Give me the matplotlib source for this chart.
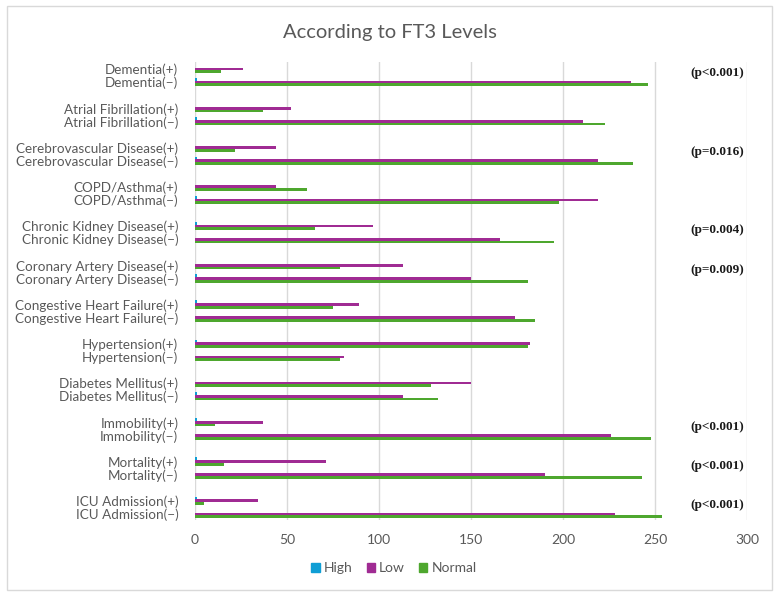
import matplotlib
matplotlib.use("Agg")
import matplotlib.pyplot as plt
from matplotlib.patches import Rectangle, Patch
import numpy as np

plt.rcParams['font.family'] = ['Lato', 'DejaVu Sans']

conditions = ["Dementia", "Atrial Fibrillation", "Cerebrovascular Disease", "COPD/Asthma",
              "Chronic Kidney Disease", "Coronary Artery Disease", "Congestive Heart Failure",
              "Hypertension", "Diabetes Mellitus", "Immobility", "Mortality", "ICU Admission"]

# values per condition: [(+), (−)]
high = [[0, 1], [0, 1], [0, 1], [0, 1], [1, 0], [0, 1], [1, 0], [1, 0], [0, 1], [1, 0], [1, 0], [1, 0]]
low = [[26, 237], [52, 211], [44, 219], [44, 219], [97, 166], [113, 150], [89, 174],
       [182, 81], [150, 113], [37, 226], [71, 190], [34, 228]]
normal = [[14, 246], [37, 223], [22, 238], [61, 198], [65, 195], [79, 181], [75, 185],
          [181, 79], [128, 132], [11, 248], [16, 243], [5, 254]]

p_labels = {"Dementia": "(p<0.001)", "Cerebrovascular Disease": "(p=0.016)",
            "Chronic Kidney Disease": "(p=0.004)", "Coronary Artery Disease": "(p=0.009)",
            "Immobility": "(p<0.001)", "Mortality": "(p<0.001)", "ICU Admission": "(p<0.001)"}

c_high, c_low, c_normal = "#0F9ED5", "#A02B93", "#4EA72E"
grey = "#595959"

fig = plt.figure(figsize=(7.8, 5.98), dpi=100)
ax = fig.add_axes([0.25, 0.1296, 0.7077, 0.7659])

# build slots: (+), (−), blank between pairs
labels, pos, hv, lv, nv = [], [], [], [], []
for i, name in enumerate(conditions):
    for j, sign in enumerate(["(+)", "(−)"]):
        labels.append(name + sign)
        pos.append(i * 3 + j)
        hv.append(high[i][j])
        lv.append(low[i][j])
        nv.append(normal[i][j])
pos = np.array(pos)

h = 0.21
ax.barh(pos - h, hv, height=h, color=c_high, label="High")
ax.barh(pos, lv, height=h, color=c_low, label="Low")
ax.barh(pos + h, nv, height=h, color=c_normal, label="Normal")

ax.set_ylim(pos.max() + 0.5, -0.5)
ax.set_xlim(0, 300)
ax.set_xticks(range(0, 301, 50))
ax.set_yticks(pos)
ax.set_yticklabels(labels)
ax.tick_params(axis='y', length=0, pad=12, labelsize=9.7, labelcolor=grey)
ax.tick_params(axis='x', length=0, pad=10, labelsize=10, labelcolor=grey)
ax.grid(axis='x', color="#D9D9D9", linewidth=1)
ax.set_axisbelow(True)
for s in ax.spines.values():
    s.set_visible(False)

for i, name in enumerate(conditions):
    if name in p_labels:
        ax.text(284, i * 3 + 0.32, p_labels[name], ha='center', va='center',
                fontsize=9.5, fontweight='bold', family='Liberation Serif', color="#1a1a1a")

fig.suptitle("According to FT3 Levels", x=0.5, y=0.96, fontsize=14.5, color=grey)

handles = [Patch(color=c_high), Patch(color=c_low), Patch(color=c_normal)]
fig.legend(handles, ["High", "Low", "Normal"], loc='center', bbox_to_anchor=(0.505, 0.05),
           ncol=3, frameon=False, fontsize=10, labelcolor=grey, handlelength=0.6,
           handleheight=0.6, handletextpad=0.3, columnspacing=1.0)

fig.patches.append(Rectangle((0.009, 0.0134), 0.981, 0.9766, transform=fig.transFigure,
                             fill=False, edgecolor="#D9D9D9", linewidth=1))

fig.savefig("out.png", dpi=100)
